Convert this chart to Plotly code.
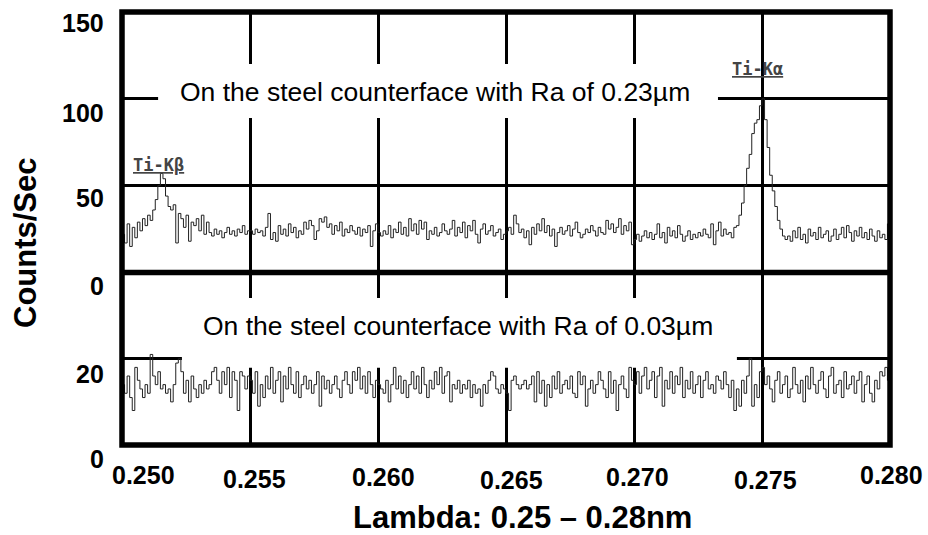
import plotly.graph_objects as go

# ---------------- data ----------------
lambda_start = 0.250
lambda_step = 0.0001

# Upper panel: steel counterface, Ra 0.23 um (counts/sec)
upper_counts = [
    22, 17, 28, 15, 26, 20, 29, 24, 31, 27, 33, 30, 36,
    42, 50, 57, 54,
    44, 38, 36, 39,
    17,
    34, 31, 26, 33,
    18, 29,
    27, 31, 24, 33, 22, 29,
    23, 21, 25, 22, 24, 20, 23, 26, 22, 24, 21, 25, 23, 27, 22, 24,
    24, 22, 25, 23, 24, 21, 26, 34, 19, 23,
    18, 27, 22, 25, 21, 28, 23, 26, 20, 24,
    22, 29, 25, 30, 27, 19, 24, 31, 29, 32,
    26, 28, 22, 27, 24, 29, 21, 25, 23, 27,
    24, 22, 26, 21, 25, 23, 27, 15, 24, 28,
    23, 21, 24, 22, 27, 20, 25, 23, 29, 22,
    26, 21, 31, 24, 28, 22, 30, 25, 29, 19,
    24, 22, 26, 21, 23, 28, 24, 22, 25, 30,
    21, 26, 23, 29, 20, 27, 24, 30, 22, 17,
    25, 28, 22, 24, 27, 21, 23, 25, 19, 22,
    24, 26, 22, 33, 28, 23, 25, 20, 24, 16,
    26, 22, 28, 24, 31, 23, 27, 21, 25, 15,
    23, 26, 22, 24, 27, 21, 25, 29, 23, 20,
    22, 25, 23, 27, 24, 21, 26, 23, 22, 30,
    25, 28, 23, 26, 31, 22, 27, 24, 29, 16,
    19, 22, 18, 21, 24, 20, 23, 19, 22, 28,
    20, 23, 17, 26, 21, 24, 20, 27, 22, 18,
    21, 24, 19, 22, 20, 23, 21, 25, 22, 20,
    28, 16, 24, 29, 21, 25, 22, 23, 20, 26,
    27, 33, 40, 50, 60, 68, 80, 86, 88, 96,
    100, 88, 72, 56, 47, 38, 30, 25, 21, 19,
    21, 18, 24, 20, 26, 19, 22, 17, 25, 21,
    23, 19, 26, 20, 22, 24, 18, 21, 25, 19,
    22, 26, 20, 27, 23, 18, 24, 21, 26, 20,
    23, 19, 25, 21, 18, 24, 20, 22, 19, 28,
    27,
]

# Lower panel: steel counterface, Ra 0.03 um (counts/sec)
lower_counts = [
    14, 12, 16, 11, 8, 18, 15, 13, 11, 14,
    12, 21, 16, 14, 17, 13, 14, 12, 13, 10,
    14, 19, 20, 17, 12, 15, 10, 16, 13, 11,
    14, 12, 15, 13, 14, 17, 18, 15, 12, 17,
    14, 18, 11, 17, 15, 8, 17, 16, 13, 16,
    15, 12, 17, 9, 14, 11, 16, 13, 18, 12,
    15, 17, 10, 16, 13, 18, 14, 12, 17, 11,
    14, 16, 13, 15, 12, 14, 17, 9, 16, 13,
    15, 12, 14, 16, 13, 11, 15, 17, 14, 12,
    17, 15, 18, 13, 16, 12, 17, 14, 11, 15,
    14, 13, 12, 15, 10, 14, 18, 13, 16, 12,
    15, 11, 14, 17, 13, 16, 12, 18, 14, 11,
    15, 13, 17, 14, 18, 12, 16, 17, 10, 14,
    13, 15, 12, 14, 13, 15, 11, 14, 12, 13,
    9, 14, 12, 15, 17, 16, 13, 12, 14, 13,
    12, 8, 15, 16, 14, 13, 14, 15, 13, 14,
    16, 10, 17, 12, 15, 9, 14, 11, 16, 13,
    17, 12, 14, 15, 13, 16, 12, 11, 17, 14,
    16, 9, 13, 15, 12, 14, 17, 15, 13, 11,
    17, 12, 15, 8, 14, 16, 13, 11, 18, 15,
    14, 17, 12, 16, 18, 13, 15, 17, 11, 16,
    18, 9, 15, 13, 17, 12, 16, 14, 18, 11,
    15, 13, 17, 12, 14, 16, 11, 15, 17, 13,
    14, 12, 16, 15, 13, 17, 14, 11, 15, 8,
    13, 9, 15, 12, 16, 20, 9, 14, 11, 17,
    18, 14, 16, 13, 10, 15, 17, 12, 14, 16,
    11, 13, 18, 14, 12, 15, 10, 16, 13, 18,
    14, 12, 15, 17, 13, 11, 16, 18, 12, 14,
    15, 11, 17, 13, 14, 16, 12, 15, 17, 10,
    14, 16, 12, 10, 15, 13, 17, 16, 18, 15,
    17,
]

lambda_nm = [round(lambda_start + lambda_step * i, 4) for i in range(len(upper_counts))]

x_tick_vals = [0.250, 0.255, 0.260, 0.265, 0.270, 0.275, 0.280]
x_tick_text = ["0.250", "0.255", "0.260", "0.265", "0.270", "0.275", "0.280"]
upper_tick_vals = [0, 50, 100, 150]
lower_tick_vals = [0, 20]

upper_label = "On the steel counterface with Ra of 0.23µm"
lower_label = "On the steel counterface with Ra of 0.03µm"
peak_labels = ["Ti-Kβ", "Ti-Kα"]
peak_label_x = [0.25143, 0.27482]
peak_label_y = [62, 117]

# label nudges (pixels) following the original's hand-placed tick labels
x_label_dx = [21, 4, 5, 5, 3, 3, 1]
x_label_dy = [2, -1.5, 0.5, -3, 0.5, -3, 2]
upper_label_dy = [-13, -12, -14, -11]
lower_label_dy = [-13.5, -15]

# ---------------- figure ----------------
W, H = 928, 535
ML, MR, MT, MB = 122, 38, 12, 90
PW, PH = W - ML - MR, H - MT - MB
split = (445 - 272.5) / PH

FONT = "Liberation Sans, Arial, sans-serif"
line_style = dict(color="#222222", width=1, shape="hv")

fig = go.Figure()
fig.add_trace(go.Scatter(x=lambda_nm, y=upper_counts, xaxis="x2", yaxis="y2",
                         mode="lines", line=line_style, showlegend=False, hoverinfo="skip"))
fig.add_trace(go.Scatter(x=lambda_nm, y=lower_counts, xaxis="x", yaxis="y",
                         mode="lines", line=line_style, showlegend=False, hoverinfo="skip"))

xcommon = dict(range=[0.25, 0.28], tickvals=x_tick_vals, showticklabels=False,
               showgrid=True, gridcolor="black", gridwidth=2.5, zeroline=False,
               showline=False, ticks="", domain=[0, 1], automargin=False)
ycommon = dict(showgrid=True, gridcolor="black", gridwidth=2.5, zeroline=False,
               showline=False, ticks="", automargin=False, showticklabels=False)

fig.update_layout(
    width=W, height=H,
    margin=dict(l=ML, r=MR, t=MT, b=MB, autoexpand=False),
    paper_bgcolor="white", plot_bgcolor="white",
    font=dict(family=FONT, color="black"),
    xaxis=dict(anchor="y", **xcommon),
    xaxis2=dict(anchor="y2", matches="x", **xcommon),
    yaxis=dict(domain=[0, split], range=[0, 40], tickvals=lower_tick_vals, **ycommon),
    yaxis2=dict(domain=[split, 1], range=[0, 150], tickvals=upper_tick_vals, **ycommon),
)

shapes = [
    # white clearings behind the panel captions (hide grid lines there)
    dict(type="rect", xref="x2", yref="y2", x0=0.25141, x1=0.27328, y0=89, y1=120,
         fillcolor="white", line=dict(width=0), layer="between"),
    dict(type="rect", xref="x", yref="y", x0=0.25234, x1=0.27402, y0=17.9, y1=34.1,
         fillcolor="white", line=dict(width=0), layer="between"),
    # heavy frame and panel divider
    dict(type="rect", xref="paper", yref="paper", x0=0, x1=1, y0=0, y1=1,
         line=dict(color="black", width=5.5), layer="above"),
    dict(type="line", xref="paper", yref="paper", x0=0, x1=1, y0=split, y1=split,
         line=dict(color="black", width=5.5), layer="above"),
]
fig.update_layout(shapes=shapes)

tick_font = dict(family=FONT, size=25, color="black", weight="bold")
label_x = (106 - ML) / PW

annotations = [
    dict(text=upper_label, xref="paper", yref="paper", x=(434.5 - ML) / PW,
         y=(445 - 92) / PH, showarrow=False, xanchor="center", yanchor="middle",
         font=dict(family=FONT, size=26.5, color="black")),
    dict(text=lower_label, xref="paper", yref="paper", x=(458 - ML) / PW,
         y=(445 - 325.5) / PH, showarrow=False, xanchor="center", yanchor="middle",
         font=dict(family=FONT, size=26.5, color="black")),
    dict(text="Counts/Sec", xref="paper", yref="paper", x=(25.5 - ML) / PW,
         y=(445 - 242.5) / PH, textangle=-90, showarrow=False,
         xanchor="center", yanchor="middle",
         font=dict(family=FONT, size=31, color="black", weight="bold")),
    dict(text="Lambda: 0.25 – 0.28nm", xref="paper", yref="paper", x=(522 - ML) / PW,
         y=(445 - 517) / PH, showarrow=False, xanchor="center", yanchor="middle",
         borderpad=0, font=dict(family=FONT, size=31, color="black", weight="bold")),
]
for name, px, py in zip(peak_labels, peak_label_x, peak_label_y):
    annotations.append(dict(text="<u>" + name + "</u>", xref="x2", yref="y2", x=px, y=py,
                            showarrow=False, xanchor="center", yanchor="middle",
                            font=dict(family="DejaVu Sans Mono", size=17, color="#444",
                                      weight="bold")))
for v, t, dx, dy in zip(x_tick_vals, x_tick_text, x_label_dx, x_label_dy):
    annotations.append(dict(text=t, xref="x", yref="paper", x=v, y=(445 - 477) / PH,
                            xshift=dx, yshift=dy, showarrow=False,
                            xanchor="center", yanchor="middle", font=tick_font))
for v, dy in zip(upper_tick_vals, upper_label_dy):
    annotations.append(dict(text=str(v), xref="paper", yref="y2", x=label_x, y=v,
                            yshift=dy, showarrow=False, xanchor="right",
                            yanchor="middle", font=tick_font))
for v, dy in zip(lower_tick_vals, lower_label_dy):
    annotations.append(dict(text=str(v), xref="paper", yref="y", x=label_x, y=v,
                            yshift=dy, showarrow=False, xanchor="right",
                            yanchor="middle", font=tick_font))
fig.update_layout(annotations=annotations)

fig.write_html("out.html")
